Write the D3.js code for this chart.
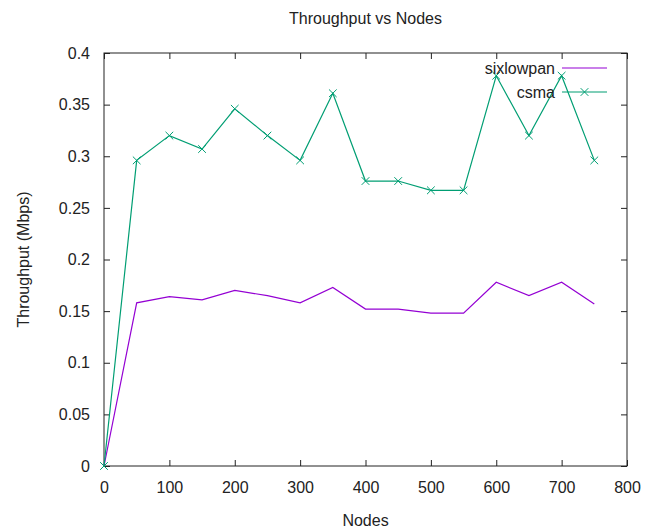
<!DOCTYPE html>
<html>
<head>
<meta charset="utf-8">
<script src="https://cdn.jsdelivr.net/npm/d3@7"></script>
<style>
  body { margin: 0; background: #fff; }
  text { font-family: "Liberation Sans", Arial, sans-serif; fill: #222; }
</style>
</head>
<body>
<div id="vis"></div>
<script>
// data
var nodes = [0, 50, 100, 150, 200, 250, 300, 350, 400, 450, 500, 550, 600, 650, 700, 750];
var sixlowpan = [0, 0.158, 0.164, 0.161, 0.170, 0.165, 0.158, 0.173, 0.152, 0.152, 0.148, 0.148, 0.178, 0.165, 0.178, 0.157];
var csma = [0, 0.296, 0.320, 0.307, 0.346, 0.320, 0.296, 0.361, 0.276, 0.276, 0.267, 0.267, 0.378, 0.320, 0.378, 0.296];
var xTicks = [0, 100, 200, 300, 400, 500, 600, 700, 800];
var yTicks = [0, 0.05, 0.1, 0.15, 0.2, 0.25, 0.3, 0.35, 0.4];

var width = 656, height = 526;
var margin = { top: 53, right: 29, bottom: 60, left: 104 };
var w = width - margin.left - margin.right;
var h = height - margin.top - margin.bottom;

var svg = d3.select("#vis").append("svg")
    .attr("width", width)
    .attr("height", height);

var g = svg.append("g")
    .attr("transform", "translate(" + margin.left + "," + margin.top + ")");

var x = d3.scaleLinear().domain([0, 800]).range([0, w]);
var y = d3.scaleLinear().domain([0, 0.4]).range([h, 0]);

// axes with inward ticks (gnuplot style, mirrored)
function styleAxis(sel) {
  sel.select(".domain").remove();
  sel.selectAll(".tick line").attr("stroke", "#222");
  sel.selectAll(".tick text").style("font-size", "16px").attr("fill", "#222");
}

g.append("g")
    .attr("transform", "translate(0," + h + ")")
    .call(d3.axisBottom(x).tickValues(xTicks).tickSize(-6).tickPadding(16).tickFormat(d3.format("d")))
    .call(styleAxis);

g.append("g")
    .call(d3.axisTop(x).tickValues(xTicks).tickSize(-6).tickFormat(""))
    .call(styleAxis);

g.append("g")
    .call(d3.axisLeft(y).tickValues(yTicks).tickSize(-6).tickPadding(14).tickFormat(function(d) { return d3.format("")(+d.toFixed(2)); }))
    .call(styleAxis);

g.append("g")
    .attr("transform", "translate(" + w + ",0)")
    .call(d3.axisRight(y).tickValues(yTicks).tickSize(-6).tickFormat(""))
    .call(styleAxis);

// frame
g.append("rect")
    .attr("width", w).attr("height", h)
    .attr("fill", "none")
    .attr("stroke", "#222")
    .attr("stroke-width", 1);

// series
var line = d3.line()
    .x(function(d, i) { return x(nodes[i]); })
    .y(function(d) { return y(d); });

g.append("path")
    .datum(sixlowpan)
    .attr("fill", "none")
    .attr("stroke", "#9400d3")
    .attr("stroke-width", 1.2)
    .attr("d", line);

g.append("path")
    .datum(csma)
    .attr("fill", "none")
    .attr("stroke", "#009e73")
    .attr("stroke-width", 1.2)
    .attr("d", line);

var cross = d3.symbol().type(d3.symbolX).size(40);

g.selectAll(".pt")
    .data(csma)
    .enter().append("path")
    .attr("class", "pt")
    .attr("transform", function(d, i) { return "translate(" + x(nodes[i]) + "," + y(d) + ")"; })
    .attr("d", cross)
    .attr("fill", "none")
    .attr("stroke", "#009e73")
    .attr("stroke-width", 1);

// legend
var legend = g.append("g").attr("transform", "translate(" + (w - 65) + ",15)");
var items = [
  { name: "sixlowpan", color: "#9400d3", marker: false },
  { name: "csma", color: "#009e73", marker: true }
];
items.forEach(function(it, i) {
  var row = legend.append("g").attr("transform", "translate(0," + (i * 24) + ")");
  row.append("text")
      .attr("x", -7).attr("y", 6)
      .attr("text-anchor", "end")
      .style("font-size", "16px")
      .text(it.name);
  row.append("line")
      .attr("x1", 0).attr("x2", 45)
      .attr("stroke", it.color)
      .attr("stroke-width", 1.2);
  if (it.marker) {
    row.append("path")
        .attr("transform", "translate(22.5,0)")
        .attr("d", cross)
        .attr("fill", "none")
        .attr("stroke", it.color);
  }
});

// titles
svg.append("text")
    .attr("x", margin.left + w / 2).attr("y", 24)
    .attr("text-anchor", "middle")
    .style("font-size", "16px")
    .text("Throughput vs Nodes");

svg.append("text")
    .attr("x", margin.left + w / 2).attr("y", 526)
    .attr("text-anchor", "middle")
    .style("font-size", "16px")
    .text("Nodes");

svg.append("text")
    .attr("transform", "translate(29," + (margin.top + h / 2) + ") rotate(-90)")
    .attr("text-anchor", "middle")
    .style("font-size", "16px")
    .text("Throughput (Mbps)");
</script>
</body>
</html>
